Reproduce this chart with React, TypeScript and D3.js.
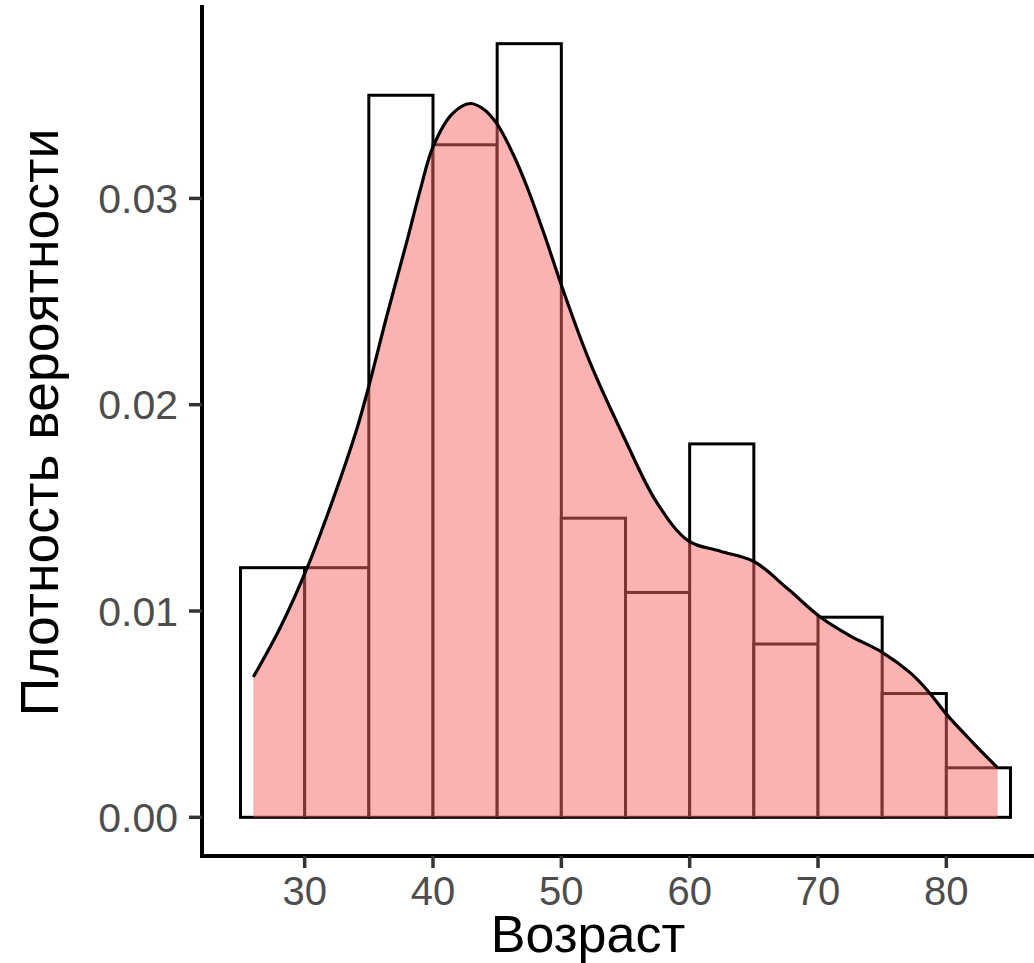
import React from "react";
import * as d3 from "d3";

// histogram bins (left edge, width 5) and their density heights
const binStarts = [25, 30, 35, 40, 45, 50, 55, 60, 65, 70, 75, 80];
const binWidth = 5;
const binDensity = [
  0.0121, 0.0121, 0.035, 0.0326, 0.0375, 0.0145, 0.0109, 0.0181, 0.0084, 0.0097, 0.006, 0.0024,
];

// kernel density curve
const densX = [
  26.0, 28.1, 30.2, 32.2, 34.1, 35.0, 36.4, 38.0, 39.0, 40.0, 41.5, 42.9, 44.0, 45.0, 46.2, 47.3,
  48.7, 50.0, 52.2, 54.9, 57.4, 59.9, 62.4, 65.0, 67.6, 70.2, 72.5, 75.0, 77.2, 78.6, 80.0, 82.1,
  84.0,
];
const densY = [
  0.0068, 0.0092, 0.0121, 0.0154, 0.0189, 0.0209, 0.0243, 0.028, 0.0304, 0.0325, 0.0341, 0.0346,
  0.0343, 0.0336, 0.0322, 0.0306, 0.0282, 0.0258, 0.0221, 0.0184, 0.0153, 0.0134, 0.0129, 0.0124,
  0.0111, 0.0097, 0.0088, 0.008, 0.007, 0.0061, 0.005, 0.0036, 0.0024,
];

const xTicks = [30, 40, 50, 60, 70, 80];
const yTicks = [0, 0.01, 0.02, 0.03];

const xTitle = "Возраст";
const yTitle = "Плотность вероятности";

const W = 1034;
const H = 963;
const panel = { left: 202, right: 1049, top: 5, bottom: 856 };
const font = "'Liberation Sans', Arial, Helvetica, sans-serif";

export default function App() {
  const x = d3.scaleLinear().domain([22, 88]).range([panel.left, panel.right]);
  const y = d3.scaleLinear().domain([-0.001875, 0.039375]).range([panel.bottom, panel.top]);

  const pts = densX.map((d, i) => [d, densY[i]] as [number, number]);
  const area = d3
    .area<[number, number]>()
    .x(d => x(d[0]))
    .y0(y(0))
    .y1(d => y(d[1]))
    .curve(d3.curveCatmullRom.alpha(0.5));
  const line = d3
    .line<[number, number]>()
    .x(d => x(d[0]))
    .y(d => y(d[1]))
    .curve(d3.curveCatmullRom.alpha(0.5));

  return (
    <svg width={W} height={H} style={{ position: "absolute", left: 0, top: 0, background: "#fff" }}>
      {/* histogram */}
      {binStarts.map((b, i) => (
        <rect
          key={b}
          x={x(b)}
          y={y(binDensity[i])}
          width={x(b + binWidth) - x(b)}
          height={y(0) - y(binDensity[i])}
          fill="#fff"
          stroke="#000"
          strokeWidth={3}
        />
      ))}

      {/* density */}
      <path d={area(pts) || ""} fill="#f86666" fillOpacity={0.5} />
      <path d={line(pts) || ""} fill="none" stroke="#000" strokeWidth={3.2} />

      {/* axes */}
      <line x1={panel.left} x2={panel.left} y1={panel.top} y2={panel.bottom + 2} stroke="#000" strokeWidth={4} />
      <line x1={panel.left - 2} x2={panel.right} y1={panel.bottom} y2={panel.bottom} stroke="#000" strokeWidth={4} />

      {xTicks.map(t => (
        <g key={t}>
          <line x1={x(t)} x2={x(t)} y1={panel.bottom} y2={panel.bottom + 12} stroke="#333" strokeWidth={3.5} />
          <text
            x={x(t)}
            y={905}
            textAnchor="middle"
            fontFamily={font}
            fontSize={40}
            fill="#4d4d4d"
          >
            {t}
          </text>
        </g>
      ))}

      {yTicks.map(t => (
        <g key={t}>
          <line x1={panel.left - 13} x2={panel.left} y1={y(t)} y2={y(t)} stroke="#333" strokeWidth={3.5} />
          <text
            x={178}
            y={y(t)}
            dy="0.36em"
            textAnchor="end"
            fontFamily={font}
            fontSize={41}
            fill="#4d4d4d"
          >
            {d3.format(".2f")(t)}
          </text>
        </g>
      ))}

      <text x={588} y={952} textAnchor="middle" fontFamily={font} fontSize={52} fill="#000">
        {xTitle}
      </text>
      <text
        transform={`translate(58,${(panel.top + panel.bottom) / 2 - 8}) rotate(-90)`}
        textAnchor="middle"
        fontFamily={font}
        fontSize={53.5}
        fill="#000"
      >
        {yTitle}
      </text>
    </svg>
  );
}
